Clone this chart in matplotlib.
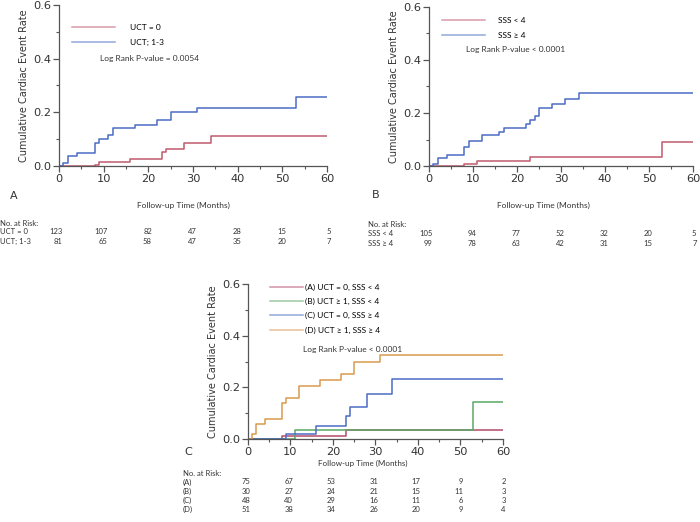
import numpy as np
import matplotlib
matplotlib.use("Agg")
import matplotlib.pyplot as plt
from matplotlib.ticker import MultipleLocator

# panel A: UCT groups (step times in months, cumulative rate after step)
a_uct0_t = [0, 8, 9, 16, 23, 24, 28, 34, 60]
a_uct0_y = [0.0, 0.005, 0.015, 0.025, 0.052, 0.065, 0.085, 0.11, 0.11]
a_uct13_t = [0, 1, 2, 4, 8, 9, 11, 12, 17, 22, 25, 31, 53, 60]
a_uct13_y = [0.0, 0.01, 0.036, 0.047, 0.084, 0.099, 0.114, 0.141, 0.154, 0.17, 0.2, 0.217, 0.259, 0.259]

# panel B: SSS groups
b_low_t = [0, 8, 11, 23, 53, 60]
b_low_y = [0.0, 0.006, 0.018, 0.033, 0.09, 0.09]
b_high_t = [0, 1, 2, 4, 8, 9, 12, 16, 17, 22, 23, 24, 25, 28, 31, 34, 60]
b_high_y = [0.0, 0.006, 0.03, 0.04, 0.07, 0.093, 0.118, 0.13, 0.143, 0.157, 0.172, 0.187,
            0.218, 0.235, 0.254, 0.274, 0.274]

# panel C: combined groups
c_a_t = [0, 8, 23, 60]
c_a_y = [0.0, 0.012, 0.033, 0.033]
c_b_t = [0, 11, 53, 60]
c_b_y = [0.0, 0.035, 0.142, 0.142]
c_c_t = [0, 9, 16, 23, 24, 28, 34, 60]
c_c_y = [0.0, 0.02, 0.05, 0.088, 0.125, 0.175, 0.232, 0.232]
c_d_t = [0, 1, 2, 4, 8, 9, 12, 17, 22, 25, 31, 60]
c_d_y = [0.0, 0.018, 0.058, 0.076, 0.138, 0.16, 0.205, 0.227, 0.25, 0.3, 0.325, 0.325]

risk_times = [0, 10, 20, 30, 40, 50, 60]
a_labels = ["UCT = 0", "UCT; 1-3"]
a_risk = [[123, 107, 82, 47, 28, 15, 5], [81, 65, 58, 47, 35, 20, 7]]
b_labels = ["SSS < 4", "SSS \u2265 4"]
b_risk = [[105, 94, 77, 52, 32, 20, 5], [99, 78, 63, 42, 31, 15, 7]]
c_labels = ["(A) UCT = 0, SSS < 4", "(B) UCT \u2265 1, SSS < 4",
            "(C) UCT = 0, SSS \u2265 4", "(D) UCT \u2265 1, SSS \u2265 4"]
c_rows = ["(A)", "(B)", "(C)", "(D)"]
c_risk = [[75, 67, 53, 31, 17, 9, 2], [30, 27, 24, 21, 15, 11, 3],
          [48, 40, 29, 16, 11, 6, 3], [51, 38, 34, 26, 20, 9, 4]]

RED = "#c05a6e"
BLUE = "#4a6cc4"
GREEN = "#5aa865"
ORANGE = "#d89a4e"
PURPLE_RED = "#b44a6a"
AXIS = "#555555"
TXT = "#333333"
SMALL = "Lato"

fig = plt.figure(figsize=(7.0, 5.22), dpi=100)
W, H = 700.0, 522.0


def px_axes(x0, x1, ytop, ybot):
    return fig.add_axes([x0 / W, 1 - ybot / H, (x1 - x0) / W, (ybot - ytop) / H])


def style(ax):
    ax.set_xlim(0, 60)
    ax.set_ylim(0, 0.6)
    ax.xaxis.set_major_locator(MultipleLocator(10))
    ax.xaxis.set_minor_locator(MultipleLocator(5))
    ax.yaxis.set_major_locator(MultipleLocator(0.2))
    ax.yaxis.set_minor_locator(MultipleLocator(0.1))
    ax.yaxis.set_major_formatter(matplotlib.ticker.FormatStrFormatter("%.1f"))
    for s in ["top", "right"]:
        ax.spines[s].set_visible(False)
    for s in ["left", "bottom"]:
        ax.spines[s].set_color(AXIS)
        ax.spines[s].set_linewidth(0.9)
    ax.tick_params(which="major", direction="out", length=4, width=0.9, color=AXIS,
                   labelsize=8.2, labelcolor="#333333", pad=1.5)
    ax.tick_params(which="minor", direction="out", length=2.5, width=0.8, color=AXIS)
    ax.set_ylabel("Cumulative Cardiac Event Rate", fontsize=7, color=TXT, labelpad=3)


def steps(ax, t, y, color, label):
    ax.step(t, y, where="post", color=color, lw=1.1, label=label)


def risk_table(ax, names, rows, label_x, y0, dy, offset):
    trans = matplotlib.transforms.blended_transform_factory(ax.transData, fig.transFigure)
    for i, (name, row) in enumerate(zip(names, rows)):
        yy = 1 - (y0 + i * dy) / H
        fig.text(label_x / W, yy, name, fontsize=5.5, family=SMALL, color=TXT, va="center")
        for t, n in zip(risk_times, row):
            ax.text(t + offset, yy, str(n), transform=trans, fontsize=5.5, family=SMALL,
                    color=TXT, ha="right", va="center", clip_on=False)


# ---- panel A
axA = px_axes(59, 327, 5, 166)
style(axA)
steps(axA, a_uct0_t, a_uct0_y, RED, a_labels[0])
steps(axA, a_uct13_t, a_uct13_y, BLUE, a_labels[1])
legA = axA.legend(loc="upper left", bbox_to_anchor=(0.02, 0.93), frameon=False,
                  prop={"family": SMALL, "size": 6}, handlelength=5.2, handletextpad=1.8,
                  labelspacing=1.0)
for h in legA.get_lines():
    h.set_alpha(0.6)
axA.text(9.2, 0.4, "Log Rank P-value = 0.0054", fontsize=6, family=SMALL, color=TXT, va="center")
fig.text(10 / W, 1 - 196 / H, "A", fontsize=8, color=TXT, va="center")
fig.text(183 / W, 1 - 205 / H, "Follow-up Time (Months)", fontsize=6, family=SMALL,
         color=TXT, ha="center", va="center")
fig.text(0, 1 - 223 / H, "No. at Risk:", fontsize=5.5, family=SMALL, color=TXT, va="center")
risk_table(axA, a_labels, a_risk, 0, 232, 9.5, 0.8)

# ---- panel B
axB = px_axes(429, 693, 7, 166)
style(axB)
steps(axB, b_low_t, b_low_y, RED, b_labels[0])
steps(axB, b_high_t, b_high_y, BLUE, b_labels[1])
legB = axB.legend(loc="upper left", bbox_to_anchor=(0.02, 0.985), frameon=False,
                  prop={"family": SMALL, "size": 6}, handlelength=5.2, handletextpad=1.6,
                  labelspacing=0.95)
for h in legB.get_lines():
    h.set_alpha(0.6)
axB.text(8.4, 0.438, "Log Rank P-value < 0.0001", fontsize=6, family=SMALL, color=TXT, va="center")
fig.text(372 / W, 1 - 195 / H, "B", fontsize=8, color=TXT, va="center")
fig.text(543 / W, 1 - 205 / H, "Follow-up Time (Months)", fontsize=6, family=SMALL,
         color=TXT, ha="center", va="center")
fig.text(368 / W, 1 - 224 / H, "No. at Risk:", fontsize=5.5, family=SMALL, color=TXT, va="center")
risk_table(axB, b_labels, b_risk, 368, 233, 10.5, 0.8)

# ---- panel C
axC = px_axes(248, 503, 284, 439)
style(axC)
steps(axC, c_a_t, c_a_y, PURPLE_RED, c_labels[0])
steps(axC, c_b_t, c_b_y, GREEN, c_labels[1])
steps(axC, c_c_t, c_c_y, BLUE, c_labels[2])
steps(axC, c_d_t, c_d_y, ORANGE, c_labels[3])
legC = axC.legend(loc="upper left", bbox_to_anchor=(0.055, 1.05), frameon=False,
                  prop={"family": SMALL, "size": 6}, handlelength=4.0, handletextpad=0.3,
                  labelspacing=0.85)
for h in legC.get_lines():
    h.set_alpha(0.6)
axC.text(12.9, 0.348, "Log Rank P-value < 0.0001", fontsize=6, family=SMALL, color=TXT, va="center")
fig.text(184 / W, 1 - 452 / H, "C", fontsize=8, color=TXT, va="center")
fig.text(363 / W, 1 - 463 / H, "Follow-up Time (Months)", fontsize=5.8, family=SMALL,
         color=TXT, ha="center", va="center")
fig.text(183 / W, 1 - 473 / H, "No. at Risk:", fontsize=5.5, family=SMALL, color=TXT, va="center")
risk_table(axC, c_rows, c_risk, 183, 482, 9.2, 0.6)

fig.savefig("out.png", dpi=100)
